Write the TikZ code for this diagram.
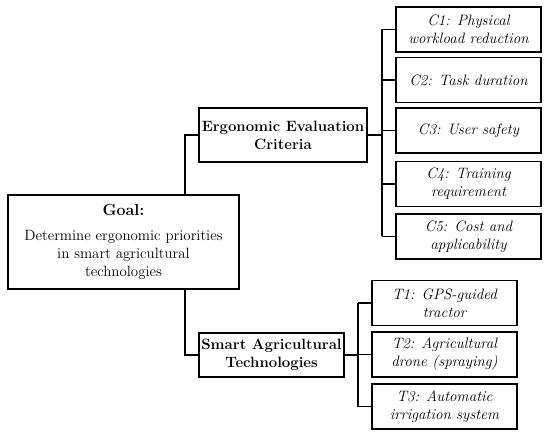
\documentclass[tikz,border=0pt]{standalone}
\usepackage{tikz}
\tikzset{
  goalbox/.style={draw=black, line width=1.4pt, fill=white, align=center, minimum width=173.25pt, minimum height=70.5pt, inner sep=0pt},
  groupbox/.style={draw=black, line width=1.4pt, fill=white, align=center, font=\fontsize{11.2}{13.5}\selectfont\bfseries, inner sep=0pt, minimum height=33pt},
  itembox/.style={draw=black, line width=1.4pt, fill=white, align=center, font=\fontsize{11.3}{13.5}\selectfont\itshape, inner sep=0pt, minimum width=108.75pt, minimum height=33.75pt},
  branch/.style={line width=1.4pt, draw=black, line join=miter},
}

\begin{document}
\begin{tikzpicture}[x=0.75pt, y=-0.75pt, font=\fontsize{11.2}{13.5}\selectfont]
\useasboundingbox (0,0) rectangle (550,438);
\node[groupbox, minimum width=126pt, minimum height=40.5pt] (ergo) at (283,135) {Ergonomic Evaluation\\Criteria};
\node[groupbox, minimum width=108.75pt] (smart) at (271.5,355) {Smart Agricultural\\Technologies};
\node[itembox] (c1) at (468.5,29.5) {C1: Physical\\workload reduction};
\node[itembox] (c2) at (468.5,80) {C2: Task duration};
\node[itembox] (c3) at (468.5,130.5) {C3: User safety};
\node[itembox] (c4) at (468.5,184) {C4: Training\\requirement};
\node[itembox] (c5) at (468.5,236.5) {C5: Cost and\\applicability};
\node[itembox] (t1) at (444.5,303) {T1: GPS-guided\\tractor};
\node[itembox] (t2) at (444.5,354.5) {T2: Agricultural\\drone (spraying)};
\node[itembox] (t3) at (444.5,406.5) {T3: Automatic\\irrigation system};
\coordinate (goaltrunk) at (185,0);
\coordinate (crittrunk) at (382,0);
\coordinate (techtrunk) at (358,0);
% goal to the two groups
\draw[branch] (ergo.west) -- (ergo.west -| goaltrunk) -- (smart.west -| goaltrunk) -- (smart.west);
% criteria
\draw[branch] (ergo.east) -- (ergo.east -| crittrunk);
\draw[branch] (c1.west -| crittrunk) -- (c5.west -| crittrunk);
\draw[branch] (c1.west -| crittrunk) -- (c1.west);
\draw[branch] (c2.west -| crittrunk) -- (c2.west);
\draw[branch] (c3.west -| crittrunk) -- (c3.west);
\draw[branch] (c4.west -| crittrunk) -- (c4.west);
\draw[branch] (c5.west -| crittrunk) -- (c5.west);
% technologies
\draw[branch] (smart.east) -- (smart.east -| techtrunk);
\draw[branch] (t1.west -| techtrunk) -- (t3.west -| techtrunk);
\draw[branch] (t1.west -| techtrunk) -- (t1.west);
\draw[branch] (t2.west -| techtrunk) -- (t2.west);
\draw[branch] (t3.west -| techtrunk) -- (t3.west);
\node[goalbox] (goal) at (123.5,242) {{\fontsize{12}{13.5}\selectfont\textbf{Goal:}}\\[5pt]Determine ergonomic priorities\\in smart agricultural\\technologies};
\end{tikzpicture}
\end{document}
